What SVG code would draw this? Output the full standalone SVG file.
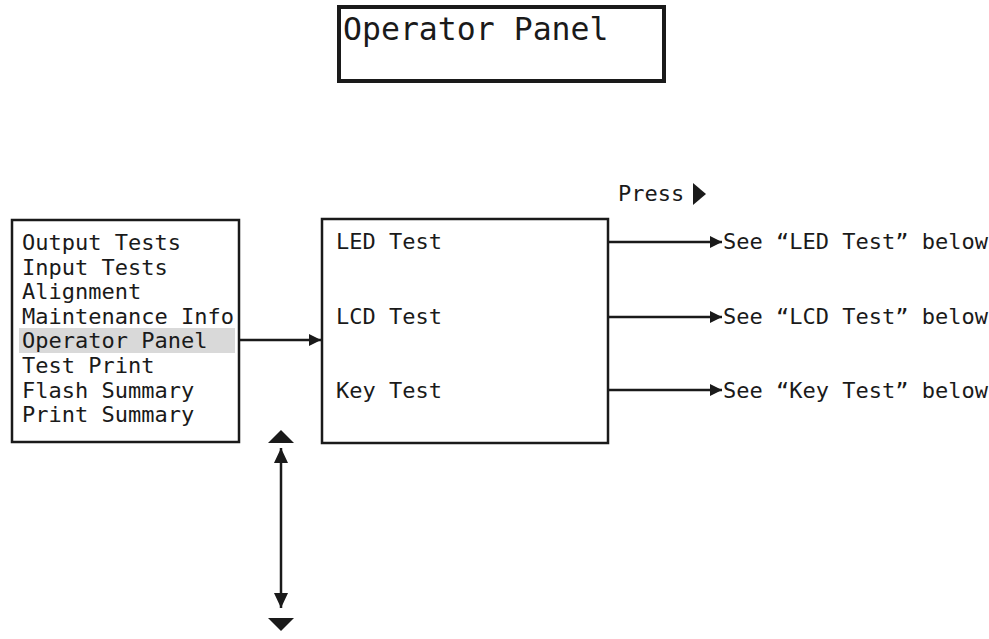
<svg xmlns="http://www.w3.org/2000/svg" width="989" height="639" viewBox="0 0 989 639">
<style>
text{font-family:"DejaVu Sans Mono","Liberation Mono",monospace;fill:#1a1a1a;font-size:22px}
.box{fill:#fff;stroke:#1a1a1a;stroke-width:2.5}
.con{stroke:#1a1a1a;stroke-width:2.5;fill:none}
</style>
<defs>
<marker id="ah" viewBox="0 0 12 12" refX="12" refY="6" markerWidth="12" markerHeight="12" markerUnits="userSpaceOnUse" orient="auto"><path d="M0,0 L12,6 L0,12 Z" fill="#1a1a1a"/></marker>
<marker id="ahv" viewBox="0 0 14 15" refX="15" refY="7" markerWidth="14" markerHeight="15" markerUnits="userSpaceOnUse" orient="auto"><path d="M0,0 L15,7 L0,14 Z" fill="#1a1a1a"/></marker>
</defs>
<g id="display">
<rect x="339" y="7" width="325" height="74" fill="#fff" stroke="#1a1a1a" stroke-width="4"/>
<text x="343" y="40" style="font-size:31.5px">Operator Panel</text>
</g>
<g id="menu">
<rect class="box" x="12" y="220" width="227" height="222"/>
<rect x="19" y="328" width="216" height="25" fill="#d9d9d9"/>
<text x="22" y="250">Output Tests</text>
<text x="22" y="274.6">Input Tests</text>
<text x="22" y="299.2">Alignment</text>
<text x="22" y="323.8">Maintenance Info</text>
<text x="22" y="348.4">Operator Panel</text>
<text x="22" y="373">Test Print</text>
<text x="22" y="397.6">Flash Summary</text>
<text x="22" y="422.2">Print Summary</text>
</g>
<g id="tests">
<rect class="box" x="322" y="219" width="286" height="224"/>
<text x="336" y="249">LED Test</text>
<text x="336" y="324">LCD Test</text>
<text x="336" y="398">Key Test</text>
</g>
<g id="press">
<text x="618" y="201">Press</text>
<path d="M693,183 L706,194 L693,205 Z" fill="#1a1a1a"/>
</g>
<g id="see-led"><text x="723" y="249">See “LED Test” below</text></g>
<g id="see-lcd"><text x="723" y="324">See “LCD Test” below</text></g>
<g id="see-key"><text x="723" y="398">See “Key Test” below</text></g>
<g id="scroll">
<path d="M268,443 L281,430 L294,443 Z" fill="#1a1a1a"/>
<path d="M268,618 L281,631 L294,618 Z" fill="#1a1a1a"/>
</g>
<g id="connectors">
<line class="con" x1="239" y1="340" x2="321" y2="340" marker-end="url(#ah)"/>
<line class="con" x1="608" y1="242" x2="722" y2="242" marker-end="url(#ah)"/>
<line class="con" x1="608" y1="317" x2="722" y2="317" marker-end="url(#ah)"/>
<line class="con" x1="608" y1="390" x2="722" y2="390" marker-end="url(#ah)"/>
<line class="con" x1="281" y1="462" x2="281" y2="448" marker-end="url(#ahv)"/>
<line class="con" x1="281" y1="460" x2="281" y2="608" marker-end="url(#ahv)"/>
</g>
</svg>
